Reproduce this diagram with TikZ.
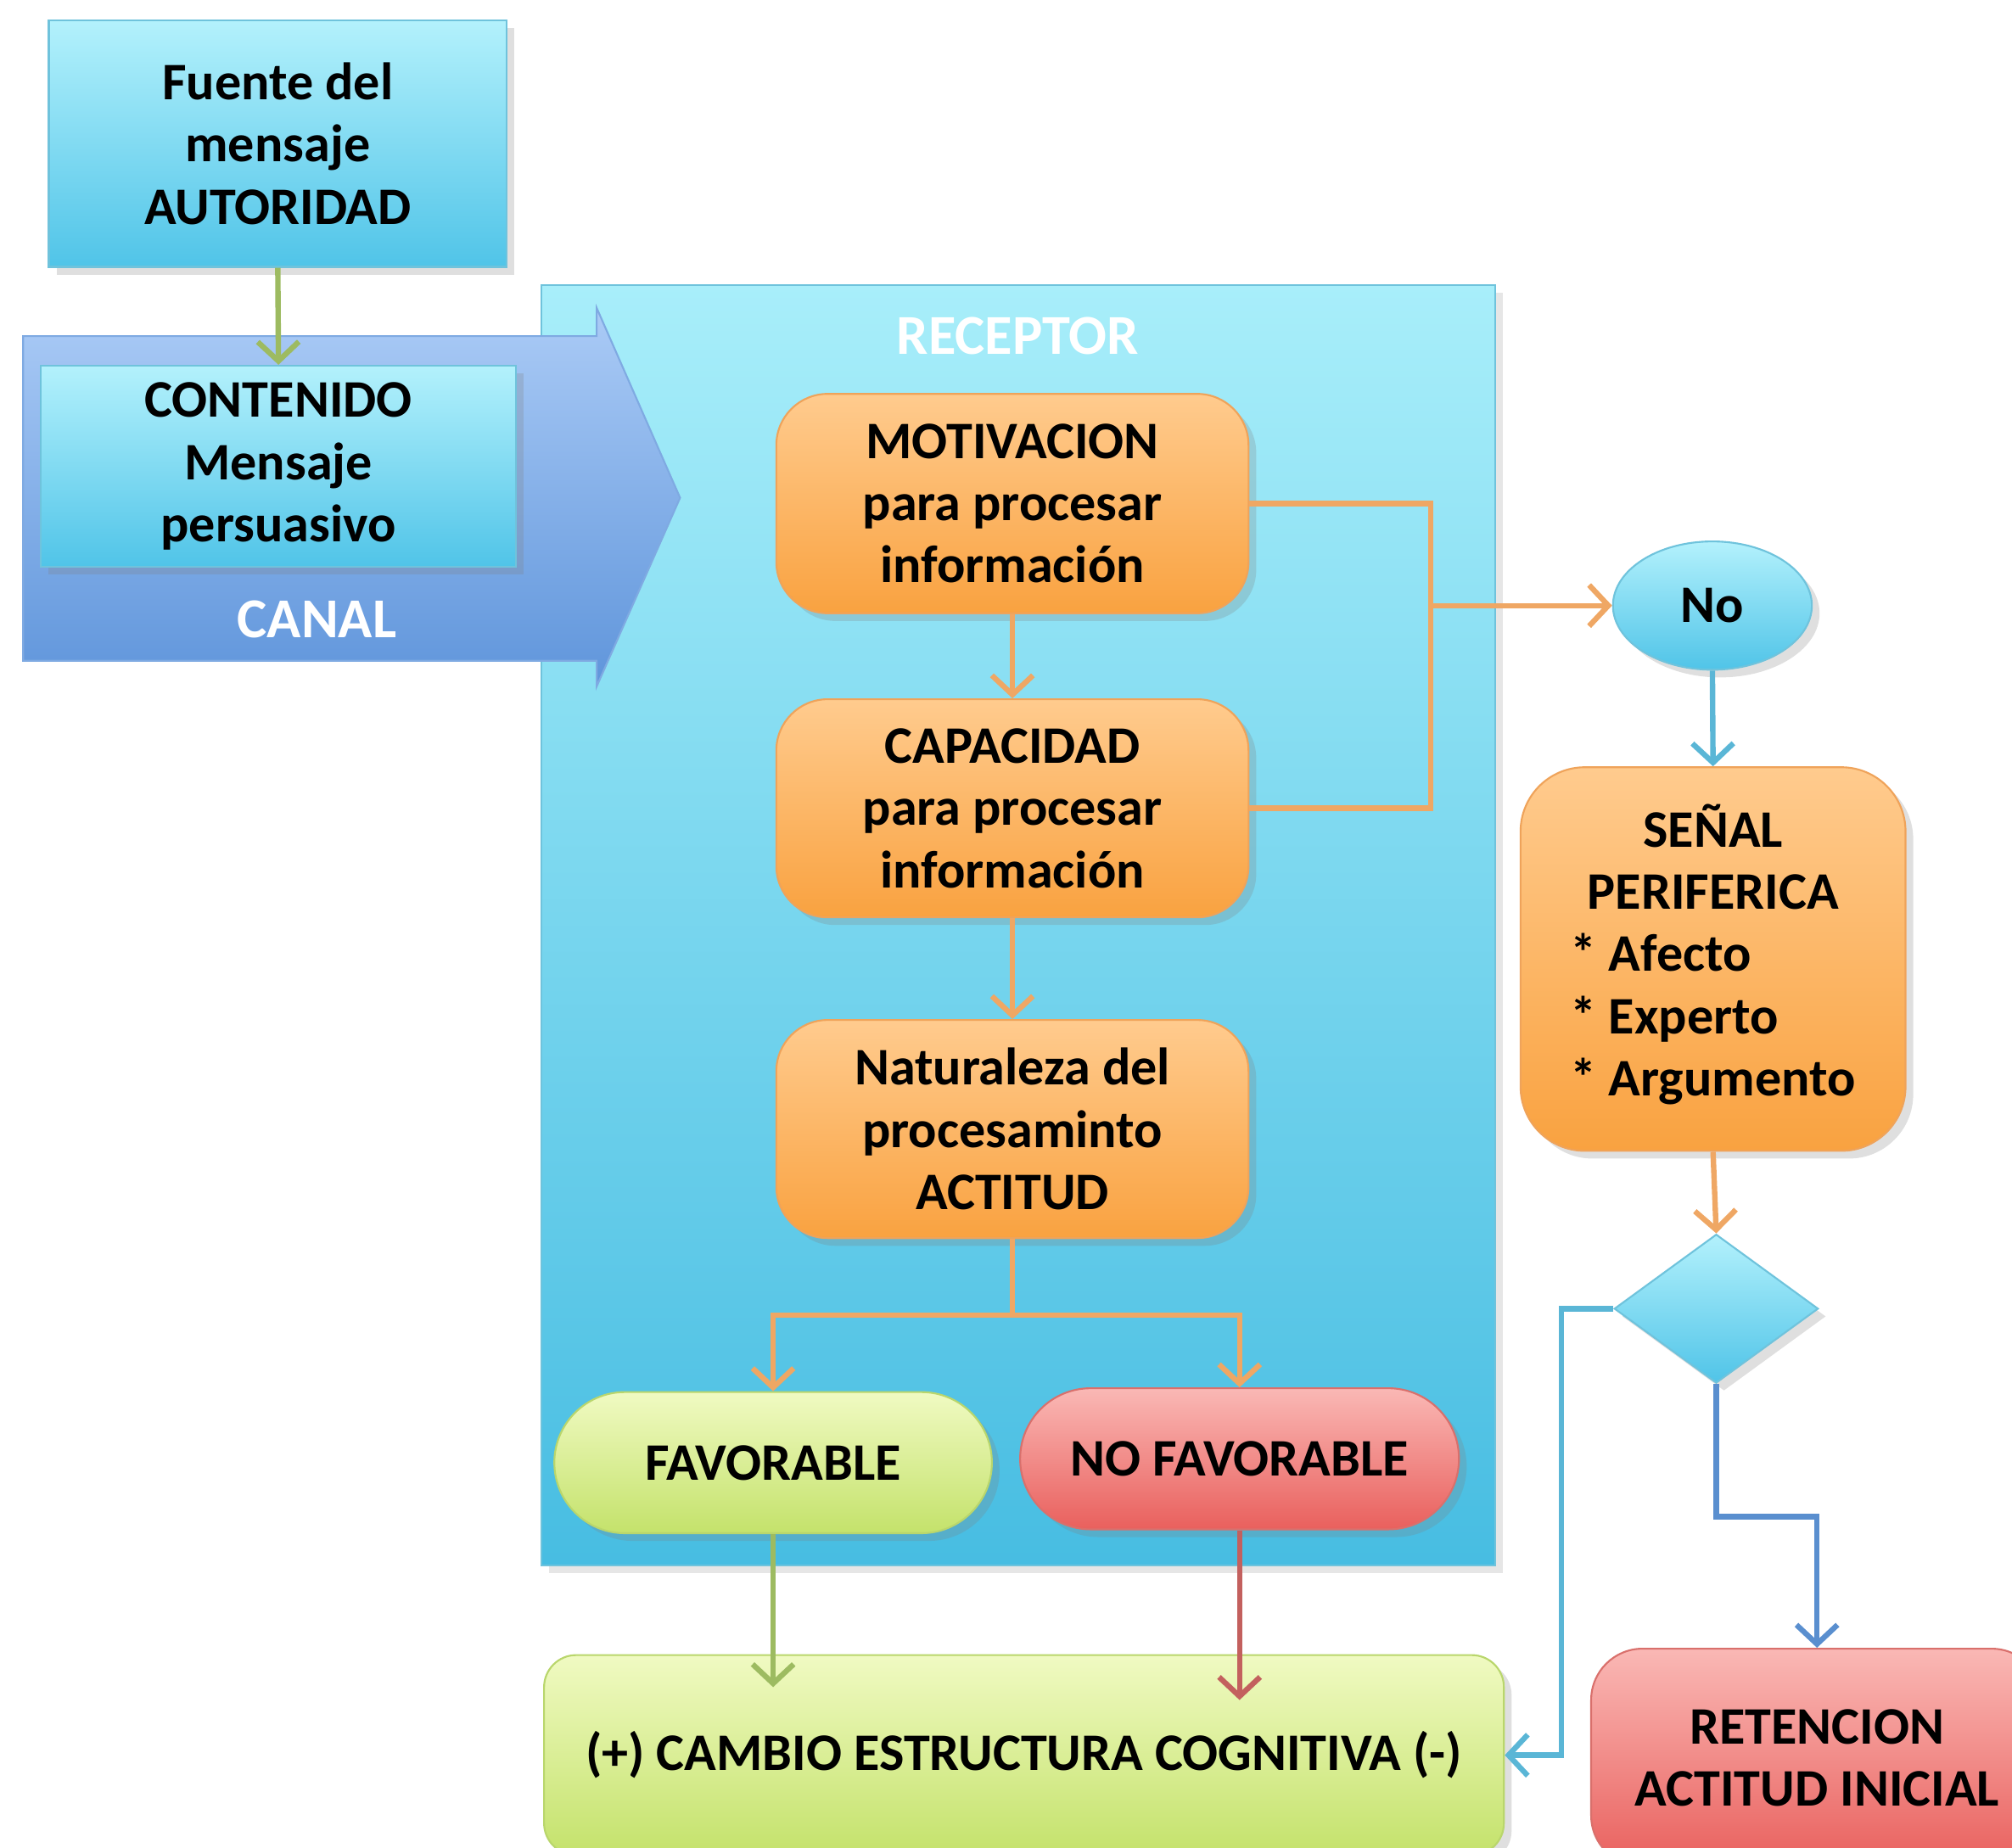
\documentclass[tikz,border=0pt]{standalone}
\usepackage{fontspec}
\setmainfont{Carlito}
\usetikzlibrary{shapes.geometric,arrows.meta,shadows}

\definecolor{cyanTop}{HTML}{B3F1FC}
\definecolor{cyanBot}{HTML}{50C4E8}
\definecolor{cyanEdge}{HTML}{6FC3DC}
\definecolor{recTop}{HTML}{A8EEFA}
\definecolor{recBot}{HTML}{47BDE2}
\definecolor{canTop}{HTML}{ABCBF6}
\definecolor{canBot}{HTML}{5F95DB}
\definecolor{oraTop}{HTML}{FFCB8E}
\definecolor{oraBot}{HTML}{F9A240}
\definecolor{oraEdge}{HTML}{EFA35A}
\definecolor{greTop}{HTML}{F0FAC2}
\definecolor{greBot}{HTML}{C4E26B}
\definecolor{greEdge}{HTML}{B9D66C}
\definecolor{redTop}{HTML}{FAB8B5}
\definecolor{redBot}{HTML}{E9605D}
\definecolor{redEdge}{HTML}{D9706C}
\definecolor{arrGreen}{HTML}{9DBB61}
\definecolor{arrOrange}{HTML}{EFA764}
\definecolor{arrRed}{HTML}{C3605E}
\definecolor{arrCyan}{HTML}{5AB6D6}
\definecolor{arrBlue}{HTML}{5A8FCF}

\tikzset{
    card/.style={rectangle, align=center, inner sep=0pt,
        font=\bfseries\fontsize{11.7}{13.8}\selectfont,
        drop shadow={opacity=0.25, shadow xshift=0.6mm, shadow yshift=-0.6mm}},
    cyancard/.style={card, top color=cyanTop, bottom color=cyanBot, draw=cyanEdge},
    orangecard/.style={card, rounded corners=4mm, top color=oraTop, bottom color=oraBot, draw=oraEdge},
    greencard/.style={card, top color=greTop, bottom color=greBot, draw=greEdge},
    redcard/.style={card, top color=redTop, bottom color=redBot, draw=redEdge},
    title/.style={white, font=\bfseries\fontsize{12.5}{14}\selectfont},
    link/.style={line width=1.2pt, ->},
}

\begin{document}
\begin{tikzpicture}[>={Straight Barb[length=1.5mm, width=3.2mm]}]
    \useasboundingbox (0,0) rectangle (15.68,14.40);
    \clip (0,0) rectangle (15.68,14.40);

    % Receptor area
    \node[rectangle, top color=recTop, bottom color=recBot, draw=cyanEdge,
        minimum width=7.43cm, minimum height=9.98cm,
        drop shadow={opacity=0.2, shadow xshift=0.6mm, shadow yshift=-0.6mm}] (receptor) at (7.935,7.19) {};
    \node[title] (receptorlabel) at (7.93,11.78) {RECEPTOR};

    % Canal arrow
    \shade[top color=canTop, bottom color=canBot, draw=canBot!80!white]
        (0.18,11.78) -- (4.65,11.78) -- (4.65,12.00) -- (5.30,10.52)
        -- (4.65,9.05) -- (4.65,9.25) -- (0.18,9.25) -- cycle;
    \node[title] (canal) at (2.47,9.57) {CANAL};

    % Source and content
    \node[cyancard, minimum width=3.57cm, minimum height=1.92cm] (fuente) at (2.165,13.28)
        {Fuente del\\mensaje\\AUTORIDAD};
    \node[cyancard, minimum width=3.70cm, minimum height=1.57cm] (contenido) at (2.17,10.765)
        {CONTENIDO\\Mensaje\\persuasivo};

    % Central route
    \node[orangecard, minimum width=3.68cm, minimum height=1.71cm] (motivacion) at (7.89,10.475)
        {MOTIVACION\\para procesar\\información};
    \node[orangecard, minimum width=3.68cm, minimum height=1.70cm] (capacidad) at (7.89,8.10)
        {CAPACIDAD\\para procesar\\información};
    \node[orangecard, minimum width=3.68cm, minimum height=1.70cm] (naturaleza) at (7.89,5.60)
        {Naturaleza del\\procesaminto\\ACTITUD};
    \node[greencard, rounded corners=5.5mm, minimum width=3.41cm, minimum height=1.10cm] (favorable) at (6.025,3.00)
        {FAVORABLE};
    \node[redcard, rounded corners=5.5mm, minimum width=3.42cm, minimum height=1.10cm] (nofavorable) at (9.66,3.03)
        {NO FAVORABLE};
    \node[greencard, rounded corners=2.5mm, minimum width=7.48cm, minimum height=1.56cm] (cambio) at (7.98,0.72)
        {(+) CAMBIO ESTRUCTURA COGNITIVA (-)};

    % Peripheral route
    \node[cyancard, ellipse, minimum width=1.55cm, minimum height=1.00cm] (no) at (13.345,9.68) {No};
    \node[orangecard, rounded corners=5mm, minimum width=3.00cm, minimum height=2.99cm] (senal) at (13.35,6.925)
        {\begin{tabular}{@{}l@{}}
            \multicolumn{1}{@{}c@{}}{SEÑAL}\\
            \multicolumn{1}{@{}c@{}}{PERIFERICA}\\
            {*} Afecto\\
            {*} Experto\\
            {*} Argumento
        \end{tabular}};
    \node[cyancard, diamond, minimum width=1.59cm, minimum height=1.16cm] (decision) at (13.375,4.20) {};
    \node[redcard, rounded corners=4mm, minimum width=3.52cm, minimum height=1.70cm] (retencion) at (14.16,0.70)
        {RETENCION\\ACTITUD INICIAL};

    \coordinate (join) at (11.15,9.68);
    \coordinate (split) at (7.89,4.15);
    \coordinate (favin) at (6.025,1.25);
    \coordinate (nofavin) at (9.66,1.15);
    \coordinate (bendleft) at (12.17,4.20);
    \coordinate (bendright) at (13.375,2.58);

    % Arrows
    \draw[link, arrGreen] (fuente.south) -- (contenido.north);
    \draw[link, arrOrange] (motivacion.south) -- (capacidad.north);
    \draw[link, arrOrange] (capacidad.south) -- (naturaleza.north);
    \draw[link, arrOrange] (naturaleza.south) -- (split) -| (favorable.north);
    \draw[link, arrOrange] (split) -| (nofavorable.north);
    \draw[link, arrGreen] (favorable.south) -- (favin);
    \draw[link, arrRed] (nofavorable.south) -- (nofavin);

    % to the peripheral route
    \draw[line width=1.2pt, arrOrange] (motivacion.east) -- (motivacion.east -| join)
        -- (capacidad.east -| join) -- (capacidad.east);
    \draw[link, arrOrange] (join) -- (no.west);
    \draw[link, arrCyan] (no.south) -- (senal.north);
    \draw[link, arrOrange] (senal.south) -- (decision.north);
    \draw[link, arrCyan] (decision.west) -- (bendleft) |- (cambio.east);
    \draw[link, arrBlue] (decision.south) -- (bendright) -| (retencion.north);

\end{tikzpicture}
\end{document}
